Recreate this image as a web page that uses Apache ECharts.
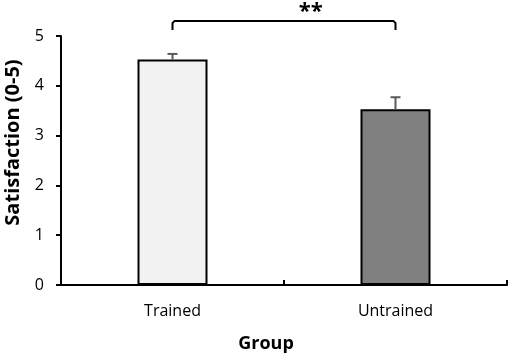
<!DOCTYPE html>
<html>
<head>
<meta charset="utf-8">
<script src="https://cdn.jsdelivr.net/npm/echarts@6/dist/echarts.min.js"></script>
<style>
  html, body { margin: 0; padding: 0; background: #fff; }
  #chart { width: 510px; height: 355px; }
</style>
</head>
<body>
<div id="chart"></div>
<script>
var groups = ['Trained', 'Untrained'];
var means = [4.53, 3.53];
var errors = [0.11, 0.24];
var barColors = ['#f2f2f2', '#808080'];
var bracketY = 5.3;
var bracketDrop = 0.18;
var sigLabel = '**';

var chart = echarts.init(document.getElementById('chart'));
var font = 'Open Sans';

var option = {
  animation: false,
  grid: { left: 61, right: 3, top: 36, bottom: 70, outerBoundsMode: 'none', containLabel: false },
  xAxis: {
    type: 'category',
    data: groups,
    name: 'Group',
    nameLocation: 'middle',
    nameGap: 50,
    nameTextStyle: { fontFamily: font, fontSize: 18, fontWeight: 'bold', color: '#000', padding: [0, 36, 0, 0] },
    axisLine: { lineStyle: { color: '#000', width: 2 } },
    axisTick: { show: true, inside: true, length: 5, lineStyle: { color: '#000', width: 2 } },
    axisLabel: { fontFamily: font, fontSize: 16, color: '#000', margin: 18 }
  },
  yAxis: {
    type: 'value',
    min: 0,
    max: 5,
    interval: 1,
    name: 'Satisfaction (0-5)',
    nameLocation: 'middle',
    nameGap: 38,
    nameTextStyle: { fontFamily: font, fontSize: 20, fontWeight: 'bold', color: '#000', padding: [0, 0, 0, 36] },
    axisLine: { show: true, lineStyle: { color: '#000', width: 2 } },
    axisTick: { show: true, length: 5, lineStyle: { color: '#000', width: 2 } },
    axisLabel: { fontFamily: font, fontSize: 16, color: '#000', margin: 17 },
    splitLine: { show: false }
  },
  series: [
    {
      type: 'bar',
      barWidth: 70,
      data: means.map(function (v, i) {
        return {
          value: v,
          itemStyle: { color: barColors[i], borderColor: '#000', borderWidth: 2 }
        };
      })
    },
    {
      type: 'custom',
      z: 5,
      data: means.map(function (v, i) { return [i, v, errors[i]]; }),
      renderItem: function (params, api) {
        var x = api.value(0);
        var top = api.coord([x, api.value(1) + api.value(2)]);
        var base = api.coord([x, api.value(1)]);
        var style = { stroke: '#595959', lineWidth: 2 };
        return {
          type: 'group',
          children: [
            { type: 'line', shape: { x1: base[0], y1: base[1], x2: top[0], y2: top[1] }, style: style },
            { type: 'line', shape: { x1: top[0] - 5, y1: top[1], x2: top[0] + 5, y2: top[1] }, style: style }
          ]
        };
      }
    },
    {
      type: 'custom',
      data: [[0, bracketY]],
      clip: false,
      renderItem: function (params, api) {
        var a = api.coord([0, bracketY]);
        var b = api.coord([1, bracketY]);
        var lo = api.coord([0, bracketY - bracketDrop])[1];
        var tx = a[0] + (b[0] - a[0]) * 0.62;
        return {
          type: 'group',
          children: [
            {
              type: 'polyline',
              shape: { points: [[a[0], lo], [a[0], a[1] + 2], [a[0] + 2, a[1]], [b[0] - 2, b[1]], [b[0], b[1] + 2], [b[0], lo]] },
              style: { stroke: '#000', lineWidth: 2, fill: null }
            },
            {
              type: 'text',
              style: { x: tx, y: a[1] - 20, text: sigLabel, fill: '#000', fontFamily: font, fontSize: 22, fontWeight: 'bold', align: 'center', verticalAlign: 'top' }
            }
          ]
        };
      }
    }
  ]
};
chart.setOption(option);
</script>
</body>
</html>
